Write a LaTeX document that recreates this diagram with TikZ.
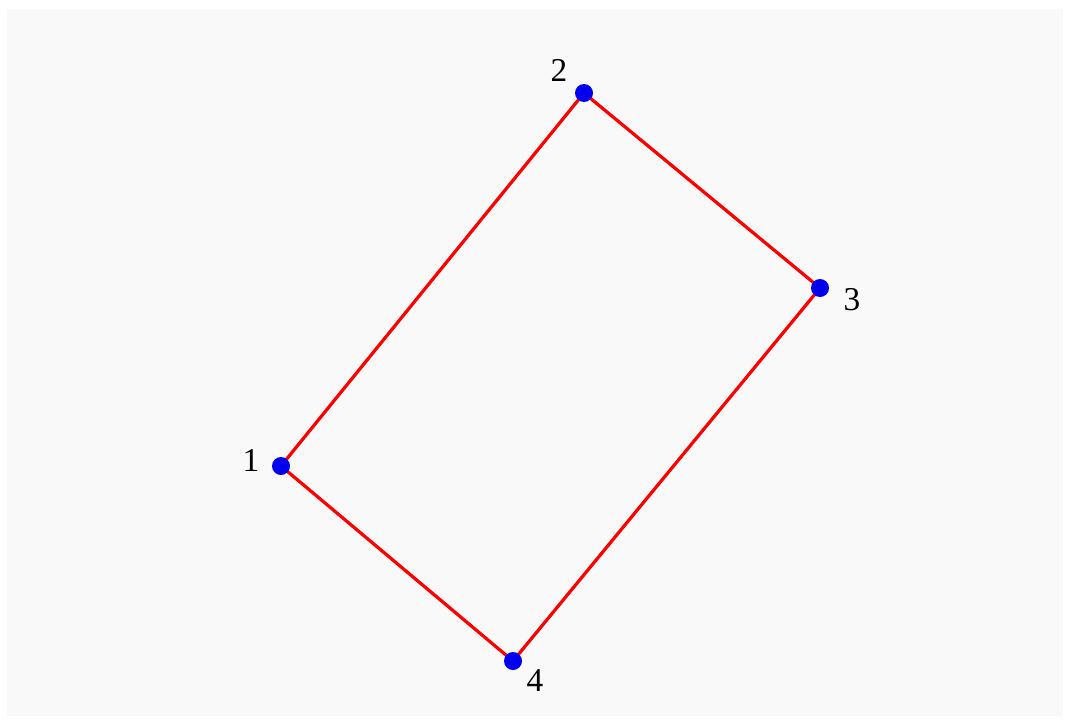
\documentclass[tikz,border=0pt]{standalone}
\usepackage{fontspec}
\setmainfont{Liberation Serif}
\definecolor{bggray}{HTML}{F9F9F9}
\definecolor{dotblue}{HTML}{0000EE}
\definecolor{edgered}{HTML}{FF0000}
\begin{document}
\begin{tikzpicture}[x=0.75pt,y=-0.75pt,
  vert/.style={circle,fill=dotblue,inner sep=0pt,minimum size=13.5pt},
  lbl/.style={font=\fontsize{25}{27}\selectfont,inner sep=0pt},
  edge/.style={draw=edgered,line width=2.4pt}]
\useasboundingbox (0,0) rectangle (1070,724);
\fill[white] (0,0) rectangle (1070,724);
\fill[bggray] (7,9) rectangle (1063,716);
\coordinate (p1) at (281,466);
\coordinate (p2) at (584,93);
\coordinate (p3) at (820,288);
\coordinate (p4) at (513,661);
\draw[edge] (p1) -- (p2) -- (p3) -- (p4) -- cycle;
\node[vert] (v1) at (p1) {};
\node[vert] (v2) at (p2) {};
\node[vert] (v3) at (p3) {};
\node[vert] (v4) at (p4) {};
\node[lbl] (l1) at (251,460) {1};
\node[lbl] (l2) at (559,70) {2};
\node[lbl] (l3) at (852,300) {3};
\node[lbl] (l4) at (535,681) {4};
\end{tikzpicture}
\end{document}
